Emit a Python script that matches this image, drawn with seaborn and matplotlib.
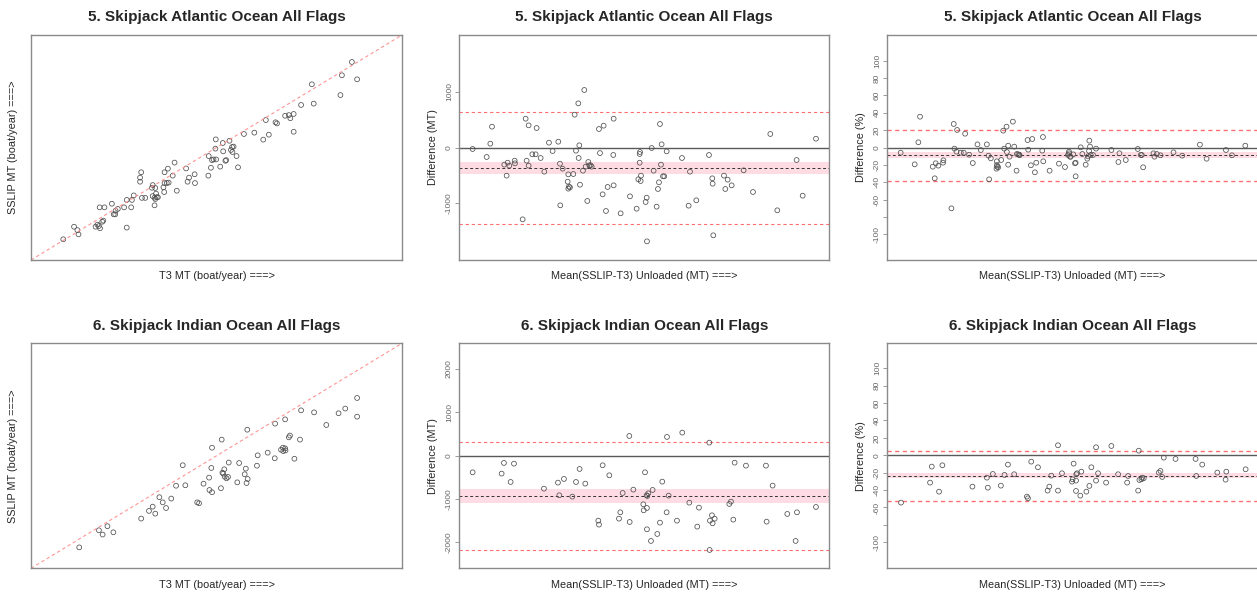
import matplotlib
matplotlib.use("Agg")
import matplotlib.pyplot as plt
import seaborn as sns

# ---- 5. Skipjack Atlantic Ocean All Flags ----
atl_t3 = [865, 838, 879, 757, 834, 762, 728, 685, 695, 708, 699, 633, 659, 663, 708, 602,
          574, 641, 626, 498, 517, 535, 542, 546, 539, 543, 497, 479, 518, 554, 492, 499,
          488, 524, 526, 485, 510, 558, 478, 387, 418, 360, 369, 382, 297, 294, 294, 328,
          360, 366, 371, 357, 326, 335, 426, 422, 441, 442, 393, 359, 337, 328, 333, 339,
          342, 335, 308, 299, 333, 277, 272, 258, 270, 251, 218, 234, 228, 223, 227, 185,
          198, 195, 192, 179, 174, 186, 183, 116, 125, 128, 258, 87]
atl_sslip = [880, 821, 803, 781, 733, 695, 689, 641, 644, 649, 630, 622, 612, 607, 570, 566,
             560, 557, 535, 536, 520, 530, 502, 504, 489, 480, 495, 462, 483, 462, 447, 447,
             444, 441, 444, 410, 415, 412, 375, 433, 407, 390, 406, 375, 390, 366, 348, 333,
             342, 342, 344, 323, 321, 320, 366, 348, 381, 342, 308, 302, 295, 284, 277, 279,
             279, 271, 276, 276, 243, 287, 267, 267, 234, 234, 250, 227, 219, 203, 203, 234,
             234, 175, 170, 157, 148, 141, 151, 148, 133, 114, 144, 92]

atl_mean = [538, 901, 996, 1039, 1358, 1418, 1444, 1488, 1626, 1634, 1833, 1910, 1936, 1988,
            1988, 2083, 2169, 2195, 2299, 2394, 2514, 2609, 2756, 2799, 2808, 2868, 2998, 3015,
            3015, 3032, 3058, 3145, 3179, 3214, 3274, 3283, 3300, 3317, 3395, 3429, 3464, 3507,
            3533, 3559, 3593, 3619, 3809, 3835, 3904, 3930, 3990, 4033, 4180, 4189, 4189, 4370,
            4612, 4784, 4828, 4862, 4862, 4871, 4888, 4896, 5017, 5043, 5052, 5173, 5224, 5302,
            5336, 5362, 5388, 5414, 5431, 5466, 5500, 5561, 5958, 6130, 6165, 6329, 6657, 6743,
            6752, 6769, 7045, 7080, 7140, 7244, 7554, 7796, 8245, 8426, 8926, 9082, 9427]
atl_diff_mt = [-27, -170, 69, 373, -307, -504, -272, -325, -236, -284, -1287, 516, -236, 397,
               -325, -122, -122, 349, -188, -433, 87, -63, 104, -290, -1036, -379, -612, -481,
               -737, -701, -713, -475, 588, -57, 791, -188, 39, -666, -415, 1030, -343, -958,
               -260, -319, -319, -343, 331, -99, -839, 391, -1137, -707, -134, 516, -678, -1179,
               -875, -1096, -570, -272, -116, -81, -600, -504, -976, -899, -1681, -9, -415, -1060,
               -743, -624, 421, -307, 57, -516, -516, -69, -188, -1042, -433, -946, -134, -552,
               -648, -1573, -504, -743, -576, -678, -409, -797, 242, -1125, -224, -863, 158]

atl_mean_pct = [538, 901, 996, 1039, 1367, 1418, 1444, 1513, 1634, 1643, 1850, 1910, 1928, 1980,
                1997, 2092, 2169, 2204, 2307, 2402, 2523, 2609, 2765, 2808, 2825, 2868, 3015, 3024,
                3024, 3032, 3058, 3136, 3188, 3214, 3274, 3283, 3317, 3317, 3352, 3438, 3473, 3533,
                3541, 3576, 3602, 3611, 3818, 3835, 3904, 3938, 4007, 4042, 4197, 4215, 4223, 4387,
                4629, 4784, 4862, 4888, 4888, 4914, 4931, 5000, 5043, 5060, 5060, 5190, 5233, 5319,
                5362, 5380, 5414, 5431, 5449, 5509, 5406, 5587, 5984, 6165, 6191, 6355, 6666, 6743,
                6769, 6804, 7071, 7097, 7158, 7253, 7589, 7813, 8271, 8443, 8944, 9099, 9444]
atl_diff_pct = [-6.0, -19.4, 6.0, 35.5, -22.1, -35.5, -18.2, -20.9, -17.5, -14.8, -70.1, 27.1,
                -1.3, -4.8, 20.2, -6.0, -6.0, 15.9, -8.3, -17.9, 3.6, -2.9, 3.6, -9.4, -36.7,
                -12.5, -24.4, -20.2, -15.9, -22.1, -22.8, -14.4, 19.4, -1.3, 24.0, -5.2, 2.1,
                -19.8, -10.6, 29.8, 1.0, -26.7, -7.5, -7.9, -8.3, -9.0, 8.6, -2.5, -20.5, 9.8,
                -28.6, -17.5, -3.6, 12.1, -15.9, -26.7, -18.6, -22.5, -8.6, -4.8, -6.7, -10.6,
                -10.6, -7.9, -18.2, -17.5, -33.2, 0.2, -7.5, -19.8, -12.9, -10.2, 7.9, 1.0, -8.6,
                -8.6, -4.0, -1.3, -2.9, -16.7, -6.7, -14.4, -1.7, -8.6, -8.6, -22.8, -6.7, -10.6,
                -7.5, -9.0, -5.6, -9.4, 3.3, -12.9, -2.9, -9.0, 2.1]

# ---- 6. Skipjack Indian Ocean All Flags ----
ind_t3 = [879, 847, 829, 879, 763, 728, 685, 658, 796, 583, 514, 488, 698, 695, 725, 679,
          685, 674, 686, 680, 710, 657, 611, 638, 609, 561, 533, 579, 576, 584, 581, 556,
          521, 516, 518, 522, 531, 527, 480, 486, 409, 465, 391, 416, 481, 488, 512, 448,
          453, 346, 378, 355, 364, 328, 318, 335, 297, 206, 183, 193, 222, 130]
ind_sslip = [757, 710, 689, 674, 693, 702, 662, 643, 637, 616, 572, 536, 590, 582, 572, 536,
             533, 527, 524, 521, 487, 489, 502, 514, 456, 468, 470, 443, 418, 397, 379, 382,
             440, 425, 421, 407, 406, 400, 403, 446, 458, 376, 367, 369, 348, 338, 356, 293,
             289, 316, 310, 293, 268, 274, 255, 243, 221, 187, 169, 150, 160, 93]

ind_mean = [713, 1274, 1319, 1448, 1513, 2093, 2364, 2390, 2480, 2642, 2713, 2783, 2893, 3145,
            3158, 3229, 3358, 3545, 3571, 3616, 3745, 3752, 3823, 4016, 4023, 4049, 4080, 4086,
            4093, 4112, 4086, 4164, 4196, 4286, 4338, 4383, 4467, 4474, 4506, 4667, 4770, 4906,
            5060, 5093, 5293, 5299, 5306, 5344, 5357, 5396, 5680, 5712, 5757, 5783, 6002, 6389,
            6402, 6518, 6802, 6963, 6989, 7357]
ind_diff_mt = [-385, -415, -169, -608, -185, -762, -623, -915, -538, -946, -608, -308, -646,
               -1500, -1592, -223, -454, -1454, -1308, -862, 454, -1531, -785, -1123, -1262,
               -385, -915, -1208, -931, -869, -1700, -1969, -792, -1808, -1546, -600, -1308,
               431, -923, -1500, 531, -1085, -1638, -1200, 300, -2177, -1500, -1377, -1562,
               -1454, -1115, -1062, -1477, -162, -231, -231, -1523, -692, -1346, -1969, -1308,
               -1185]

ind_mean_pct = [720, 1281, 1314, 1455, 1519, 2099, 2378, 2397, 2494, 2649, 2719, 2785, 2906,
                3152, 3172, 3235, 3365, 3551, 3584, 3622, 3752, 3829, 3752, 4054, 4034, 4023,
                4100, 4106, 4120, 4100, 4183, 4203, 4300, 4358, 4396, 4487, 4487, 4526, 4681,
                4783, 4913, 5087, 5106, 5300, 5312, 5325, 5364, 5377, 5408, 5699, 5731, 5764,
                5795, 6022, 6409, 6422, 6538, 6829, 6989, 7003, 7376]
ind_diff_pct = [-54.4, -31.4, -13.0, -41.8, -11.5, -36.0, -25.7, -37.2, -21.5, -34.9, -22.6,
                -10.7, -21.8, -47.5, -49.4, -7.3, -13.8, -40.6, -36.0, -23.4, -40.6, -20.7, 11.5,
                -9.6, -27.6, -30.3, -29.1, -21.8, -20.7, -41.0, -46.4, -18.8, -41.8, -35.2, -13.8,
                9.2, -29.1, -20.7, -31.4, 10.7, -21.8, -31.4, -23.8, -40.6, 5.3, -28.4, -27.6,
                -25.7, -26.4, -19.9, -18.0, -24.9, -2.7, -4.2, -4.2, -23.8, -10.7, -19.9, -28.0,
                -18.8, -16.1]

# Bland-Altman lines: mean, lower/upper limits, CI band of the mean
atl_mt_stats = dict(mean=-373, lo=-1370, hi=630, band=(-469, -266))
atl_pct_stats = dict(mean=-8.6, lo=-38.6, hi=20.5, band=(-11.7, -5.6))
ind_mt_stats = dict(mean=-938, lo=-2177, hi=315, band=(-1092, -769))
ind_pct_stats = dict(mean=-23.4, lo=-52.5, hi=5.4, band=(-26.4, -19.9))

mt_ticks_atl = [-1000, 0, 1000]
mt_ticks_ind = [-2000, -1000, 0, 1000, 2000]
pct_ticks = [-100, -80, -60, -40, -20, 0, 20, 40, 60, 80, 100]
pct_ticklabels = ['-100', '', '-60', '-40', '-20', '0', '20', '40', '60', '80', '100']

titles = ['5. Skipjack Atlantic Ocean All Flags', '6. Skipjack Indian Ocean All Flags']

sns.set_theme(style="white")
plt.rcParams['font.family'] = ['Liberation Sans', 'DejaVu Sans']

FRAME = '#8a8a8a'
LOA = '#ff6f6f'
PT_KW = dict(facecolors='none', edgecolor='#505050', s=12, linewidth=0.55, marker='o', legend=False)


def frame(ax):
    for sp in ax.spines.values():
        sp.set_visible(True)
        sp.set_color(FRAME)
        sp.set_linewidth(1.0)


def put_title(ax, title):
    ax.text(0.5, 1.079, title, transform=ax.transAxes, ha='center', va='center',
            fontsize=11, fontweight='bold')


def scatter_panel(ax, x, y, title):
    ax.plot([0, 1], [0, 1], transform=ax.transAxes, color='#ff9494', lw=0.8, ls=(0, (3, 2.5)))
    sns.scatterplot(x=x, y=y, ax=ax, **PT_KW)
    ax.set_xlim(0, 1000)
    ax.set_ylim(0, 1000)
    ax.set_xticks([])
    ax.set_yticks([])
    ax.set_xlabel('T3 MT (boat/year) ===>', fontsize=7.8)
    ax.set_ylabel('SSLIP MT (boat/year) ===>', fontsize=7.8)
    ax.xaxis.set_label_coords(0.5, -0.05)
    ax.yaxis.set_label_coords(-0.035, 0.5)
    frame(ax)
    put_title(ax, title)


def ba_panel(ax, x, y, st, xlim, ylim, ticks, ticklabels, ylabel, title, loa_lw):
    ax.axhspan(st['band'][0], st['band'][1], color='#ffdce3', lw=0, zorder=0)
    ax.axhline(0, color='#5a5a5a', lw=1.0, zorder=1)
    ax.axhline(st['mean'], color='#333333', lw=0.7, ls=(0, (3, 2.5)), zorder=1)
    ax.axhline(st['hi'], color=LOA, lw=loa_lw, ls=(0, (3, 2.5)), zorder=1)
    ax.axhline(st['lo'], color=LOA, lw=loa_lw, ls=(0, (3, 2.5)), zorder=1)
    sns.scatterplot(x=x, y=y, ax=ax, zorder=3, **PT_KW)
    ax.set_xlim(*xlim)
    ax.set_ylim(*ylim)
    ax.set_xticks([])
    ax.set_yticks(ticks)
    ax.set_yticklabels(ticklabels, rotation=90, va='center', fontsize=6, color='#666666')
    ax.tick_params(axis='y', left=True, length=3, width=0.6, color=FRAME, pad=1.5)
    ax.set_xlabel('Mean(SSLIP-T3) Unloaded (MT) ===>', fontsize=7.8)
    ax.set_ylabel(ylabel, fontsize=7.8)
    ax.xaxis.set_label_coords(0.5, -0.05)
    ax.yaxis.set_label_coords(-0.058, 0.5)
    frame(ax)
    put_title(ax, title)


fig = plt.figure(figsize=(12.57, 5.95), dpi=100)
W, H = 1257, 595
cols = [(31, 371), (459.3, 370), (887.3, 370.7)]
rows = [(35, 225), (343.3, 225)]


def make_ax(c, r):
    x0, w = cols[c]
    y0, h = rows[r]
    return fig.add_axes([x0 / W, 1 - (y0 + h) / H, w / W, h / H])


ax = make_ax(0, 0)
scatter_panel(ax, atl_t3, atl_sslip, titles[0])
ax = make_ax(1, 0)
ba_panel(ax, atl_mean, atl_diff_mt, atl_mt_stats, (193, 9772), (-2015, 2015),
         mt_ticks_atl, [str(t) for t in mt_ticks_atl], 'Difference (MT)', titles[0], 0.8)
ax = make_ax(2, 0)
ba_panel(ax, atl_mean_pct, atl_diff_pct, atl_pct_stats, (193, 9772), (-129.6, 129.6),
         pct_ticks, pct_ticklabels, 'Difference (%)', titles[0], 1.0)

ax = make_ax(0, 1)
scatter_panel(ax, ind_t3, ind_sslip, titles[1])
ax = make_ax(1, 1)
ba_panel(ax, ind_mean, ind_diff_mt, ind_mt_stats, (455, 7615), (-2600, 2592),
         mt_ticks_ind, [str(t) for t in mt_ticks_ind], 'Difference (MT)', titles[1], 0.8)
ax = make_ax(2, 1)
ba_panel(ax, ind_mean_pct, ind_diff_pct, ind_pct_stats, (455, 7615), (-129.9, 128.7),
         pct_ticks, pct_ticklabels, 'Difference (%)', titles[1], 1.0)

fig.savefig('out.png', dpi=100)
